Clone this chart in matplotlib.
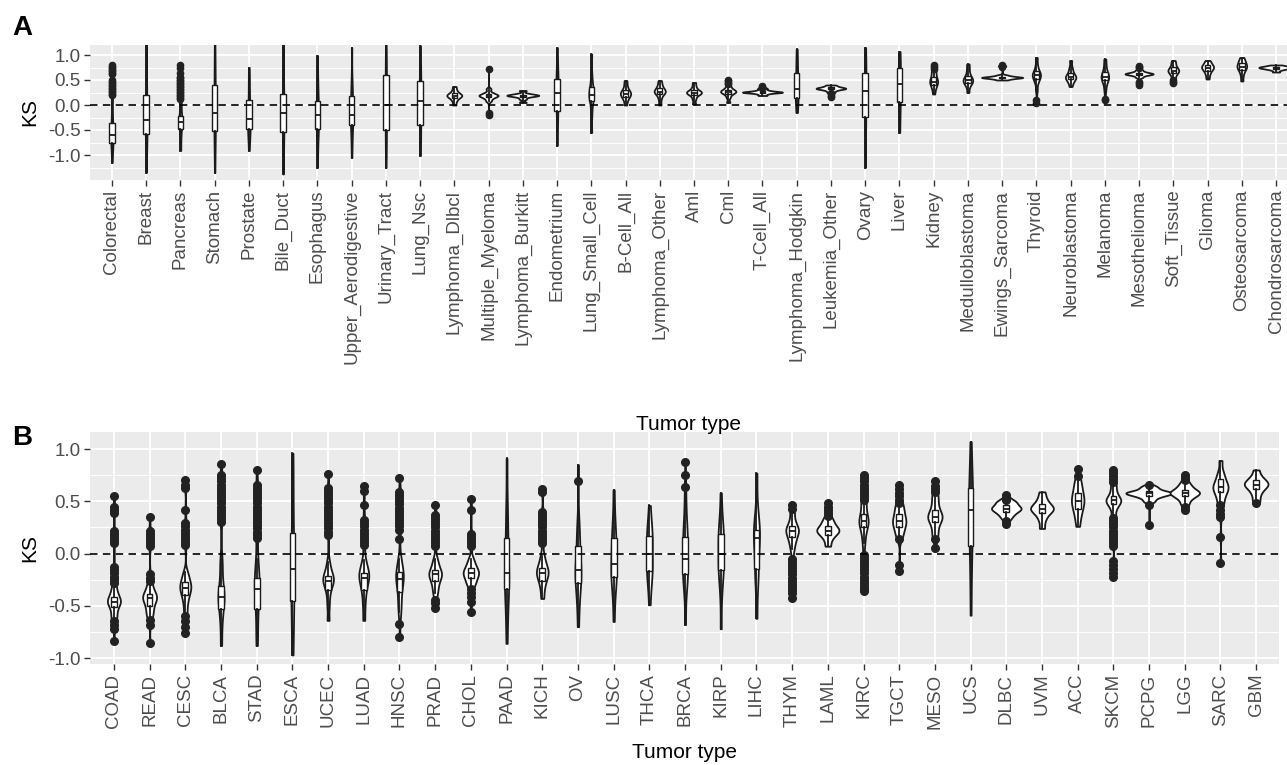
import numpy as np
import matplotlib
matplotlib.use("Agg")
import matplotlib.pyplot as plt
from matplotlib.ticker import MultipleLocator

plt.rcParams['font.family'] = ['Liberation Sans', 'DejaVu Sans']

# ---- panel A : cell lines ----
names_a = ["Colorectal", "Breast", "Pancreas", "Stomach", "Prostate", "Bile_Duct",
           "Esophagus", "Upper_Aerodigestive", "Urinary_Tract", "Lung_Nsc",
           "Lymphoma_Dlbcl", "Multiple_Myeloma", "Lymphoma_Burkitt", "Endometrium",
           "Lung_Small_Cell", "B-Cell_All", "Lymphoma_Other", "Aml", "Cml",
           "T-Cell_All", "Lymphoma_Hodgkin", "Leukemia_Other", "Ovary", "Liver",
           "Kidney", "Medulloblastoma", "Ewings_Sarcoma", "Thyroid", "Neuroblastoma",
           "Melanoma", "Mesothelioma", "Soft_Tissue", "Glioma", "Osteosarcoma",
           "Chondrosarcoma"]

dist_a = [
    [-1.15, -0.95, -0.85, -0.75, -0.68, -0.62, -0.6, -0.58, -0.5, -0.35, -0.3, -0.1, 0.1],
    [-1.35, -1.0, -0.75, -0.61, -0.5, -0.4, -0.35, -0.25, -0.1, 0.1, 0.23, 0.5, 0.8, 1.3],
    [-0.91, -0.7, -0.55, -0.45, -0.38, -0.34, -0.32, -0.3, -0.25, -0.15, -0.05, 0.05],
    [-1.35, -1.0, -0.75, -0.58, -0.45, -0.3, -0.25, -0.15, 0.0, 0.2, 0.29, 0.5, 0.75, 0.95, 1.22],
    [-0.91, -0.68, -0.55, -0.5, -0.42, -0.36, -0.3, -0.25, -0.15, -0.05, 0.15, 0.35, 0.55, 0.75],
    [-1.38, -1.0, -0.7, -0.58, -0.45, -0.3, -0.21, -0.1, 0.0, 0.02, 0.3, 0.6, 0.8, 1.25],
    [-1.25, -0.8, -0.6, -0.51, -0.4, -0.3, -0.22, -0.18, -0.1, 0.0, 0.1, 0.3, 0.5, 0.99],
    [-1.05, -0.75, -0.51, -0.4, -0.3, -0.25, -0.2, -0.1, 0.05, 0.19, 0.3, 0.45, 1.15],
    [-1.25, -0.9, -0.65, -0.5, -0.3, -0.15, 0.0, 0.2, 0.4, 0.6, 0.75, 1.0, 1.25],
    [-1.01, -0.75, -0.55, -0.35, -0.2, 0.0, 0.15, 0.3, 0.45, 0.6, 0.75, 1.19],
    [0.0, 0.08, 0.13, 0.16, 0.18, 0.19, 0.2, 0.22, 0.25, 0.3, 0.37],
    [0.08, 0.13, 0.16, 0.18, 0.19, 0.2, 0.22, 0.25, 0.32],
    [0.05, 0.12, 0.16, 0.18, 0.19, 0.19, 0.2, 0.21, 0.23, 0.29],
    [-0.81, -0.5, -0.2, -0.08, 0.1, 0.2, 0.29, 0.4, 0.5, 0.59, 0.8, 1.15],
    [-0.55, -0.2, 0.0, 0.12, 0.16, 0.2, 0.22, 0.26, 0.35, 0.42, 0.6, 1.02],
    [0.0, 0.1, 0.15, 0.19, 0.21, 0.23, 0.25, 0.28, 0.32, 0.4, 0.49],
    [0.0, 0.12, 0.2, 0.24, 0.26, 0.27, 0.29, 0.32, 0.36, 0.42, 0.49],
    [0.02, 0.12, 0.19, 0.22, 0.24, 0.25, 0.26, 0.28, 0.31, 0.37, 0.45],
    [0.05, 0.15, 0.21, 0.24, 0.26, 0.27, 0.28, 0.3, 0.33, 0.38],
    [0.19, 0.22, 0.24, 0.25, 0.25, 0.26, 0.26, 0.27, 0.28, 0.3, 0.33],
    [-0.15, -0.02, 0.1, 0.2, 0.28, 0.32, 0.4, 0.55, 0.75, 0.89, 1.12],
    [0.26, 0.29, 0.31, 0.32, 0.33, 0.33, 0.34, 0.35, 0.36, 0.38, 0.4],
    [-1.25, -0.8, -0.38, -0.2, 0.0, 0.2, 0.35, 0.45, 0.6, 0.75, 0.95, 1.15],
    [-0.55, -0.2, -0.01, 0.15, 0.3, 0.42, 0.5, 0.65, 0.82, 0.95, 1.07],
    [0.22, 0.32, 0.38, 0.42, 0.45, 0.47, 0.5, 0.53, 0.58, 0.65, 0.69],
    [0.25, 0.38, 0.43, 0.46, 0.49, 0.5, 0.52, 0.56, 0.62, 0.72, 0.82],
    [0.5, 0.52, 0.53, 0.54, 0.55, 0.55, 0.55, 0.56, 0.57, 0.58, 0.6],
    [0.3, 0.45, 0.5, 0.55, 0.58, 0.6, 0.62, 0.66, 0.7, 0.8, 0.95],
    [0.37, 0.45, 0.5, 0.53, 0.55, 0.56, 0.58, 0.62, 0.68, 0.75, 0.89],
    [0.3, 0.42, 0.48, 0.52, 0.55, 0.57, 0.6, 0.64, 0.7, 0.8, 0.92],
    [0.55, 0.58, 0.6, 0.61, 0.62, 0.62, 0.63, 0.64, 0.65, 0.67, 0.7],
    [0.5, 0.58, 0.63, 0.66, 0.68, 0.69, 0.71, 0.74, 0.78, 0.84, 0.89],
    [0.52, 0.6, 0.66, 0.7, 0.73, 0.75, 0.76, 0.78, 0.81, 0.85, 0.89],
    [0.48, 0.6, 0.68, 0.72, 0.75, 0.77, 0.79, 0.82, 0.86, 0.9, 0.95],
    [0.66, 0.7, 0.72, 0.73, 0.74, 0.75, 0.75, 0.76, 0.77, 0.78, 0.8],
]

fliers_a = [
    [0.2, 0.23, 0.26, 0.29, 0.32, 0.35, 0.38, 0.41, 0.44, 0.47, 0.5,
     0.62, 0.65, 0.68, 0.71, 0.74, 0.77, 0.8],
    [],
    [0.12, 0.15, 0.18, 0.21, 0.24, 0.27, 0.3, 0.33, 0.36, 0.39, 0.42, 0.45,
     0.48, 0.51, 0.54, 0.57, 0.65, 0.75, 0.8],
    [], [], [], [], [], [], [],
    [],
    [0.72, -0.15, -0.2],
    [], [], [], [], [], [],
    [0.42, 0.45, 0.48, 0.5],
    [0.35, 0.37, 0.39],
    [],
    [0.16, 0.19, 0.22, 0.24],
    [], [],
    [0.72, 0.76, 0.8],
    [],
    [0.76, 0.78, 0.78, 0.8],
    [0.05, 0.1],
    [],
    [0.1, 0.13],
    [0.4, 0.44, 0.47, 0.74, 0.77, 0.79],
    [0.44, 0.47, 0.5],
    [], [], [],
]

# ---- panel B : TCGA ----
names_b = ["COAD", "READ", "CESC", "BLCA", "STAD", "ESCA", "UCEC", "LUAD", "HNSC",
           "PRAD", "CHOL", "PAAD", "KICH", "OV", "LUSC", "THCA", "BRCA", "KIRP",
           "LIHC", "THYM", "LAML", "KIRC", "TGCT", "MESO", "UCS", "DLBC", "UVM",
           "ACC", "SKCM", "PCPG", "LGG", "SARC", "GBM"]

dist_b = [
    [-0.32, -0.37, -0.4, -0.43, -0.45, -0.46, -0.47, -0.5, -0.53, -0.58, -0.62],
    [-0.3, -0.35, -0.38, -0.4, -0.42, -0.43, -0.45, -0.48, -0.52, -0.56, -0.6],
    [-0.18, -0.22, -0.26, -0.29, -0.31, -0.33, -0.35, -0.38, -0.42, -0.47, -0.55],
    [-0.05, -0.13, -0.25, -0.33, -0.38, -0.4, -0.43, -0.46, -0.52, -0.58, -0.7, -0.88],
    [-0.05, -0.13, -0.2, -0.25, -0.29, -0.32, -0.36, -0.42, -0.51, -0.6, -0.75, -0.88],
    [-0.97, -0.8, -0.57, -0.45, -0.35, -0.25, -0.15, -0.05, 0.08, 0.2, 0.5, 0.75, 0.96],
    [-0.08, -0.15, -0.19, -0.22, -0.24, -0.25, -0.27, -0.3, -0.33, -0.4, -0.5, -0.64],
    [-0.06, -0.12, -0.16, -0.19, -0.21, -0.22, -0.25, -0.29, -0.33, -0.4, -0.5, -0.64],
    [-0.05, -0.11, -0.16, -0.2, -0.22, -0.24, -0.28, -0.33, -0.4, -0.48, -0.56],
    [-0.05, -0.1, -0.14, -0.17, -0.19, -0.2, -0.22, -0.25, -0.28, -0.33, -0.38],
    [-0.05, -0.1, -0.13, -0.16, -0.18, -0.19, -0.21, -0.24, -0.27, -0.3],
    [-0.86, -0.6, -0.41, -0.32, -0.25, -0.22, -0.15, -0.05, 0.1, 0.3, 0.45, 0.91],
    [-0.02, -0.08, -0.12, -0.15, -0.17, -0.19, -0.21, -0.24, -0.28, -0.34, -0.43],
    [0.85, 0.3, 0.2, 0.1, 0.0, -0.1, -0.14, -0.17, -0.2, -0.24, -0.3, -0.38, -0.5, -0.7],
    [0.61, 0.35, 0.2, 0.15, 0.1, 0.0, -0.1, -0.15, -0.18, -0.22, -0.28, -0.4, -0.65],
    [0.46, 0.3, 0.2, 0.17, 0.14, 0.1, 0.0, -0.1, -0.14, -0.17, -0.2, -0.3, -0.49],
    [0.5, 0.32, 0.2, 0.16, 0.12, 0.05, -0.05, -0.12, -0.16, -0.2, -0.25, -0.35, -0.68],
    [0.58, 0.35, 0.25, 0.2, 0.16, 0.12, 0.05, -0.05, -0.1, -0.13, -0.17, -0.25, -0.4, -0.72],
    [0.77, 0.4, 0.28, 0.23, 0.2, 0.18, 0.15, 0.1, -0.05, -0.15, -0.2, -0.3, -0.62],
    [0.4, 0.33, 0.28, 0.25, 0.23, 0.22, 0.2, 0.17, 0.14, 0.1, 0.04],
    [0.07, 0.13, 0.17, 0.19, 0.21, 0.22, 0.23, 0.25, 0.27, 0.3, 0.33],
    [0.1, 0.18, 0.23, 0.27, 0.29, 0.31, 0.33, 0.36, 0.4, 0.45, 0.5],
    [0.16, 0.2, 0.24, 0.27, 0.29, 0.31, 0.33, 0.36, 0.39, 0.43, 0.46],
    [0.16, 0.22, 0.28, 0.32, 0.34, 0.35, 0.37, 0.4, 0.44, 0.5, 0.55],
    [1.07, 0.8, 0.69, 0.6, 0.5, 0.45, 0.38, 0.25, 0.1, 0.0, -0.25, -0.59],
    [0.34, 0.37, 0.39, 0.41, 0.42, 0.43, 0.44, 0.45, 0.47, 0.49, 0.5],
    [0.24, 0.32, 0.37, 0.4, 0.42, 0.43, 0.44, 0.46, 0.49, 0.53, 0.59],
    [0.26, 0.35, 0.4, 0.45, 0.48, 0.5, 0.53, 0.56, 0.6, 0.65, 0.7],
    [0.35, 0.42, 0.46, 0.48, 0.5, 0.51, 0.52, 0.54, 0.57, 0.61, 0.66],
    [0.5, 0.53, 0.55, 0.56, 0.57, 0.58, 0.58, 0.59, 0.6, 0.62, 0.64],
    [0.48, 0.52, 0.54, 0.56, 0.57, 0.58, 0.59, 0.6, 0.62, 0.64, 0.67],
    [0.48, 0.53, 0.57, 0.6, 0.62, 0.63, 0.65, 0.67, 0.7, 0.74, 0.78, 0.89],
    [0.5, 0.56, 0.6, 0.63, 0.65, 0.66, 0.67, 0.69, 0.71, 0.74, 0.8],
]

fliers_b = [
    [0.55, 0.45, 0.42, 0.39, 0.22, 0.19, 0.16, 0.13, 0.1, -0.13, -0.16, -0.19,
     -0.22, -0.25, -0.28, -0.65, -0.68, -0.72, -0.84],
    [0.35, 0.22, 0.19, 0.16, 0.13, 0.1, 0.07, -0.2, -0.23, -0.26, -0.64, -0.68, -0.86],
    [0.7, 0.66, 0.63, 0.42, 0.29, 0.26, 0.23, 0.2, 0.17, 0.14, 0.11, 0.08,
     -0.6, -0.65, -0.7, -0.76],
    [0.86, 0.75, 0.72, 0.69, 0.66, 0.63, 0.6, 0.57, 0.54, 0.51, 0.48, 0.45,
     0.42, 0.39, 0.36, 0.33, 0.3],
    [0.8, 0.66, 0.63, 0.6, 0.57, 0.54, 0.51, 0.48, 0.45, 0.42, 0.39, 0.36,
     0.33, 0.3, 0.27, 0.24, 0.21, 0.18, 0.15],
    [],
    [0.76, 0.63, 0.6, 0.57, 0.54, 0.51, 0.48, 0.45, 0.42, 0.39, 0.36, 0.33,
     0.3, 0.27, 0.24, 0.21, 0.18],
    [0.65, 0.6, 0.46, 0.32, 0.29, 0.26, 0.23, 0.2, 0.17, 0.14, 0.11, 0.08],
    [0.72, 0.59, 0.56, 0.53, 0.5, 0.47, 0.44, 0.41, 0.38, 0.35, 0.32, 0.29,
     0.26, 0.23, 0.14, -0.67, -0.8],
    [0.46, 0.37, 0.34, 0.31, 0.28, 0.25, 0.22, 0.19, 0.16, 0.13, 0.1, 0.07,
     -0.44, -0.47, -0.52],
    [0.52, 0.42, 0.19, 0.16, 0.13, 0.1, 0.07, -0.34, -0.38, -0.42, -0.46, -0.56],
    [],
    [0.62, 0.59, 0.4, 0.37, 0.34, 0.31, 0.28, 0.25, 0.22, 0.19, 0.16, 0.13, 0.1],
    [0.69],
    [], [],
    [0.75, 0.64, 0.88],
    [], [],
    [0.46, 0.43, -0.05, -0.08, -0.11, -0.14, -0.17, -0.2, -0.23, -0.26, -0.29,
     -0.32, -0.35, -0.38, -0.43],
    [0.36, 0.39, 0.42, 0.45, 0.48],
    [0.75, 0.72, 0.69, 0.66, 0.63, 0.6, 0.57, 0.54, 0.51, -0.01, -0.04, -0.07,
     -0.1, -0.13, -0.16, -0.19, -0.22, -0.25, -0.28, -0.31, -0.34, -0.36],
    [0.66, 0.62, 0.58, 0.55, 0.51, 0.48, 0.14, -0.11, -0.17],
    [0.69, 0.65, 0.62, 0.59, 0.14, 0.05],
    [],
    [0.56, 0.53, 0.51, 0.31, 0.28],
    [],
    [0.74, 0.81],
    [0.8, 0.77, 0.74, 0.71, 0.68, 0.34, 0.31, 0.28, 0.25, 0.22, 0.19, 0.16,
     0.13, 0.1, 0.07, -0.07, -0.11, -0.15, -0.19, -0.22],
    [0.66, 0.46, 0.27],
    [0.75, 0.72, 0.7, 0.45, 0.42],
    [0.46, 0.42, 0.38, 0.35, 0.16, -0.09],
    [0.48],
]

GREY_BG = "#EBEBEB"
TXT = "#4D4D4D"


def kde(dist, fliers, n=256):
    d = np.asarray(dist, float)
    f = np.asarray(fliers, float)
    q25, q75 = np.percentile(d, [25, 75])
    s = min(d.std(ddof=1), (q75 - q25) / 1.34)
    if s <= 0:
        s = d.std(ddof=1)
    bw = 0.9 * s * len(d) ** -0.2
    pts = np.concatenate([d, f])
    w = np.concatenate([np.ones(len(d)), np.full(len(f), 0.35)])
    y = np.linspace(pts.min(), pts.max(), n)
    k = np.exp(-0.5 * ((y[:, None] - pts[None, :]) / bw) ** 2)
    dens = (k * w[None, :]).sum(1) / (w.sum() * bw * np.sqrt(2 * np.pi))
    return y, dens


def panel(ax, names, dists, fliers, ylim, xlim, full_w, dot):
    pos = np.arange(1, len(names) + 1)
    stats = []
    peaks = []
    for d, f in zip(dists, fliers):
        y, dens = kde(d, f)
        stats.append(dict(coords=y, vals=dens, mean=np.mean(d), median=np.median(d),
                          min=y.min(), max=y.max()))
        peaks.append(dens.max())
    peaks = np.array(peaks)
    widths = full_w * peaks / peaks.max()
    parts = ax.violin(stats, positions=pos, widths=widths,
                      showmeans=False, showextrema=False, showmedians=False)
    for b in parts['bodies']:
        b.set_facecolor("white")
        b.set_edgecolor("#1a1a1a")
        b.set_linewidth(1.3)
        b.set_alpha(1)
        b.set_zorder(2)

    bstats = []
    for d, f in zip(dists, fliers):
        q1, med, q3 = np.percentile(d, [25, 50, 75])
        bstats.append(dict(med=med, q1=q1, q3=q3, whislo=min(d), whishi=max(d),
                           fliers=f))
    ax.bxp(bstats, positions=pos, widths=0.16, patch_artist=True, showcaps=False,
           boxprops=dict(facecolor="white", edgecolor="#1a1a1a", linewidth=1.0),
           medianprops=dict(color="#1a1a1a", linewidth=1.3),
           whiskerprops=dict(color="#1a1a1a", linewidth=1.3),
           flierprops=dict(marker="o", markerfacecolor="#222222",
                           markeredgecolor="#222222", markersize=dot),
           zorder=3, manage_ticks=False)

    ax.axhline(0, color="black", lw=1.2, ls=(0, (4.5, 3.2)), zorder=4)

    ax.set_facecolor(GREY_BG)
    for s in ax.spines.values():
        s.set_visible(False)
    ax.set_xlim(*xlim)
    ax.set_ylim(*ylim)
    ax.set_xticks(pos)
    ax.set_xticklabels(names, rotation=90, fontsize=13.5, color=TXT)
    ax.set_yticks([-1.0, -0.5, 0.0, 0.5, 1.0])
    ax.set_yticklabels(["-1.0", "-0.5", "0.0", "0.5", "1.0"], fontsize=13.5, color=TXT)
    ax.yaxis.set_minor_locator(MultipleLocator(0.25))
    ax.tick_params(which="major", length=4, width=1.0, color="#333333", pad=3)
    ax.tick_params(which="minor", length=0)
    ax.grid(which="major", color="white", lw=1.3)
    ax.grid(which="minor", axis="y", color="white", lw=0.7)
    ax.set_axisbelow(True)


W, H = 1287, 765
fig = plt.figure(figsize=(W / 100, H / 100), dpi=100)

ax_a = fig.add_axes([90 / W, 1 - 180 / H, (1287 - 90) / W, 135 / H])
panel(ax_a, names_a, dist_a, fliers_a, (-1.5, 1.2), (0.36, 35.32), 1.2, 4.5)

ax_b = fig.add_axes([90 / W, 1 - 664 / H, (1279 - 90) / W, 232 / H])
panel(ax_b, names_b, dist_b, fliers_b, (-1.057, 1.163), (0.33, 33.64), 1.3, 5.5)

fig.text(12 / W, 1 - 35 / H, "A", fontsize=20, fontweight="bold", va="baseline")
fig.text(12 / W, 1 - 445 / H, "B", fontsize=20, fontweight="bold", va="baseline")
fig.text(30 / W, 1 - 112 / H, "KS", fontsize=15, rotation=90, ha="center", va="center")
fig.text(30 / W, 1 - 548 / H, "KS", fontsize=15, rotation=90, ha="center", va="center")
fig.text(688 / W, 1 - 425 / H, "Tumor type", fontsize=15, ha="center", va="center")
fig.text(685 / W, 1 - 752 / H, "Tumor type", fontsize=15, ha="center", va="center")

fig.savefig("out.png", dpi=100)
